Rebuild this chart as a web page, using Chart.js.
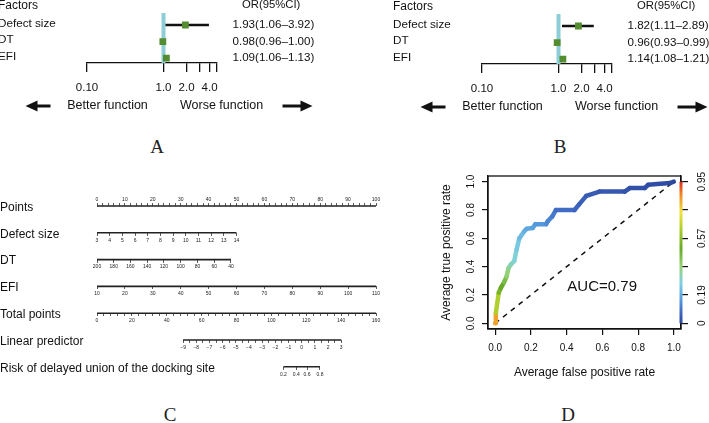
<!DOCTYPE html>
<html>
<head>
<meta charset="utf-8">
<title>Forest plots, nomogram and ROC</title>
<script src="https://cdn.jsdelivr.net/npm/chart.js"></script>
<style>
  body { margin: 0; background: #fff; }
  #page { position: relative; width: 709px; height: 423px; overflow: hidden; background: #fff; }
  canvas { position: absolute; }
  .tag { position: absolute; font: 19px "Liberation Serif", "Times New Roman", serif; color: #222; transform: translate(-50%, -50%); }
</style>
</head>
<body>
<div id="page">
  <canvas id="forestA" width="318" height="125" style="left:-2px;top:0"></canvas>
  <canvas id="forestB" width="318" height="125" style="left:393px;top:1px"></canvas>
  <canvas id="nomo" width="400" height="220" style="left:0;top:180px"></canvas>
  <canvas id="roc" width="289" height="240" style="left:420px;top:160px"></canvas>
  <div class="tag" style="left:157px;top:147px">A</div>
  <div class="tag" style="left:560px;top:147px">B</div>
  <div class="tag" style="left:170px;top:415px">C</div>
  <div class="tag" style="left:568px;top:415px">D</div>
</div>
<script>
const FONT = '"Liberation Sans", Arial, sans-serif';
Chart.defaults.font.family = FONT;
Chart.defaults.color = '#1a1a1a';
Chart.defaults.animation = false;
Chart.defaults.events = [];
Chart.defaults.plugins.legend.display = false;
Chart.defaults.plugins.tooltip.enabled = false;

// panels A and B: odds ratios
const factors = ['Defect size', 'DT', 'EFI'];
const orA = [1.93, 0.98, 1.09];
const loA = [1.06, 0.96, 1.06];
const hiA = [3.92, 1.00, 1.13];
const orB = [1.82, 0.96, 1.14];
const loB = [1.11, 0.93, 1.08];
const hiB = [2.89, 0.99, 1.21];
const orTicks = [0.1, 1, 2, 3, 4, 5];
const orTickLabels = ['0.10', '1.0', '2.0', '', '4.0', ''];

// panel C: nomogram
const nomoRows = ['Points', 'Defect size', 'DT', 'EFI', 'Total points', 'Linear predictor', 'Risk of delayed union of the docking site'];
const pointsTicks = [0, 10, 20, 30, 40, 50, 60, 70, 80, 90, 100];
const defectTicks = [3, 4, 5, 6, 7, 8, 9, 10, 11, 12, 13, 14];
const dtTicks = [200, 180, 160, 140, 120, 100, 80, 60, 40];
const efiTicks = [10, 20, 30, 40, 50, 60, 70, 80, 90, 100, 110];
const totalTicks = [0, 20, 40, 60, 80, 100, 120, 140, 160];
const lpTicks = [-9, -8, -7, -6, -5, -4, -3, -2, -1, 0, 1, 2, 3];
const riskTicks = [0.2, 0.4, 0.6, 0.8];
// points given at the far end of each predictor
const defectMaxPoints = 50;
const dtMaxPoints = 48;
const efiMaxPoints = 100;
// linear predictor at 0 total points, and per total point
const lpIntercept = -15.53;
const lpSlope = 0.1323;

// panel D: ROC
const fpr = [0, 0.004, 0.02, 0.032, 0.05, 0.064, 0.075, 0.088, 0.107, 0.12, 0.135, 0.163, 0.176, 0.21, 0.225, 0.285, 0.294, 0.32, 0.34, 0.444, 0.47, 0.51, 0.584, 0.725, 0.753, 0.837, 0.856, 0.978, 1.0];
const tpr = [0, 0.075, 0.216, 0.25, 0.29, 0.33, 0.39, 0.415, 0.44, 0.52, 0.60, 0.65, 0.667, 0.673, 0.70, 0.70, 0.72, 0.755, 0.80, 0.80, 0.84, 0.90, 0.93, 0.93, 0.955, 0.955, 0.978, 0.99, 1.0];
const cutoff = [0.95, 0.72, 0.55, 0.52, 0.48, 0.42, 0.36, 0.32, 0.30, 0.27, 0.24, 0.20, 0.19, 0.17, 0.16, 0.14, 0.13, 0.11, 0.09, 0.07, 0.06, 0.05, 0.04, 0.03, 0.025, 0.02, 0.015, 0.01, 0];
const rocTicks = [0, 0.2, 0.4, 0.6, 0.8, 1.0];
const cutoffTicks = [0, 0.19, 0.38, 0.57, 0.76, 0.95];
const cutoffTickLabels = ['0', '0.19', '', '0.57', '', '0.95'];
const aucText = 'AUC=0.79';

// colour ramp for the cutoff colouring
const rampStops = [
  [0.00, [44, 72, 158]],
  [0.07, [62, 102, 192]],
  [0.16, [88, 158, 222]],
  [0.27, [126, 208, 228]],
  [0.38, [150, 212, 120]],
  [0.50, [104, 170, 40]],
  [0.63, [172, 206, 46]],
  [0.74, [240, 226, 62]],
  [0.85, [240, 150, 40]],
  [0.95, [222, 44, 30]]
];

function ramp(v) {
  for (let i = 1; i < rampStops.length; i++) {
    const [v1, c1] = rampStops[i];
    if (v <= v1 || i === rampStops.length - 1) {
      const [v0, c0] = rampStops[i - 1];
      const t = Math.max(0, Math.min(1, (v - v0) / (v1 - v0)));
      return 'rgb(' + c0.map((c, k) => Math.round(c + (c1[k] - c) * t)).join(',') + ')';
    }
  }
}

function arrow(ctx, tail, tip, y) {
  const dir = Math.sign(tip - tail);
  ctx.lineWidth = 3;
  ctx.beginPath();
  ctx.moveTo(tail, y);
  ctx.lineTo(tip - dir * 10, y);
  ctx.stroke();
  ctx.beginPath();
  ctx.moveTo(tip, y);
  ctx.lineTo(tip - dir * 12, y - 5.5);
  ctx.lineTo(tip - dir * 12, y + 5.5);
  ctx.closePath();
  ctx.fill();
}

// texts and arrows round the forest plots
const forestText = {
  id: 'forestText',
  afterDraw(chart, args, opts) {
    const { ctx, chartArea, scales: { x, y } } = chart;
    const one = x.getPixelForValue(1);
    ctx.save();
    ctx.fillStyle = '#111';
    ctx.strokeStyle = '#111';
    ctx.textBaseline = 'middle';
    const headY = y.getPixelForValue(4.2);
    ctx.font = '12px ' + FONT;
    ctx.fillText('Factors', 0, headY);
    ctx.font = '11.3px ' + FONT;
    ctx.fillText('OR(95%CI)', 244, headY);
    factors.forEach((f, i) => {
      const py = y.getPixelForValue(factors.length - i);
      ctx.font = '11.7px ' + FONT;
      ctx.fillText(f, 0, py - 1.5);
      ctx.font = '11.6px ' + FONT;
      ctx.fillText(opts.or[i].toFixed(2) + '(' + opts.lo[i].toFixed(2) + '–' + opts.hi[i].toFixed(2) + ')', 234.5, py);
    });
    const ay = chartArea.bottom + 43;
    ctx.font = '12.5px ' + FONT;
    ctx.textAlign = 'center';
    ctx.fillText('Better function', one - 56, ay);
    ctx.fillText('Worse function', one + 58, ay);
    arrow(ctx, one - 113, one - 138, ay);
    arrow(ctx, one + 119, one + 149, ay);
    ctx.restore();
  }
};

function forest(id, or, lo, hi) {
  const rows = factors.map((f, i) => factors.length - i);
  return new Chart(document.getElementById(id), {
    type: 'scatter',
    data: {
      datasets: [
        { type: 'scatter', data: or.map((v, i) => ({ x: v, y: rows[i] })), pointStyle: 'rect', pointRadius: 4.8, backgroundColor: '#548c30', borderWidth: 0, order: 0 },
        ...rows.map((r, i) => ({ type: 'line', data: [{ x: lo[i], y: r }, { x: hi[i], y: r }], borderColor: '#111', borderWidth: 2.6, pointRadius: 0, order: 1 })),
        { type: 'line', data: [{ x: 1, y: 0.7 }, { x: 1, y: 3.72 }], borderColor: '#8ccdd7', borderWidth: 4, pointRadius: 0, order: 2 }
      ]
    },
    options: {
      responsive: false,
      devicePixelRatio: 1,
      layout: { padding: { left: 89, right: 99, top: 8.5, bottom: 22 } },
      scales: {
        x: {
          type: 'logarithmic', min: 0.1, max: 5, bounds: 'data',
          afterBuildTicks: s => { s.ticks = orTicks.map(v => ({ value: v })); },
          afterFit: s => { s.height = 40; },
          ticks: { callback: (v, i) => orTickLabels[i], autoSkip: false, maxRotation: 0, padding: 8.8, font: { size: 11.5 }, color: '#111' },
          grid: { drawOnChartArea: false, tickLength: 9, color: '#111', lineWidth: 1.3 },
          border: { color: '#111', width: 1.3 }
        },
        y: { type: 'linear', min: 0.7, max: 4, display: false }
      },
      plugins: { forestText: { or, lo, hi } }
    },
    plugins: [forestText]
  });
}

forest('forestA', orA, loA, hiA);
forest('forestB', orB, loB, hiB);

// nomogram
const logit = p => Math.log(p / (1 - p));
const lpEnd = lpIntercept + lpSlope * totalTicks[totalTicks.length - 1];

function nomoAxis(row, from, to, majors, minorStep, fmt) {
  const isMajor = v => majors.some(m => Math.abs(m - v) < 1e-6);
  return {
    type: 'linear', axis: 'x', bounds: 'data',
    min: Math.min(from, to), max: Math.max(from, to), reverse: from > to,
    position: row === 0 ? 'top' : { y: row },
    afterBuildTicks: s => {
      const vals = majors.slice();
      if (minorStep) {
        const a = Math.min(...majors), b = Math.max(...majors);
        for (let v = a; v <= b + 1e-6; v += minorStep) if (!isMajor(v)) vals.push(v);
      }
      s.ticks = vals.sort((p, q) => p - q).map(v => ({ value: v }));
    },
    afterFit: s => { if (row === 0) s.height = 14; },
    ticks: { autoSkip: false, maxRotation: 0, padding: row === 0 ? 0 : 1.5, font: { size: 5 }, color: '#222', callback: v => isMajor(v) ? fmt(v) : '' },
    grid: { drawOnChartArea: false, tickLength: 3, color: '#333', lineWidth: 0.8 },
    border: { display: false }
  };
}

const nomoScales = [
  ['xPoints', 0, 100, pointsTicks, 2, String],
  ['xDefect', defectTicks[0], defectTicks[0] + (defectTicks[defectTicks.length - 1] - defectTicks[0]) * 100 / defectMaxPoints, defectTicks, 0, String],
  ['xDT', dtTicks[0], dtTicks[0] - (dtTicks[0] - dtTicks[dtTicks.length - 1]) * 100 / dtMaxPoints, dtTicks, 0, String],
  ['xEFI', efiTicks[0], efiTicks[0] + (efiTicks[efiTicks.length - 1] - efiTicks[0]) * 100 / efiMaxPoints, efiTicks, 0, String],
  ['xTotal', 0, totalTicks[totalTicks.length - 1], totalTicks, 4, String],
  ['xLP', lpIntercept, lpEnd, lpTicks, 0.5, v => String(v).replace('-', '−')],
  ['xRisk', lpIntercept, lpEnd, riskTicks.map(logit), 0, v => (1 / (1 + Math.exp(-v))).toFixed(1)]
];

const nomoOpts = { y: { type: 'linear', min: 0, max: 6.4, reverse: true, display: false } };
nomoScales.forEach(([id, from, to, majors, minor, fmt], row) => {
  nomoOpts[id] = nomoAxis(row, from, to, majors, minor, fmt);
});

const nomoLabels = {
  id: 'nomoLabels',
  afterDraw(chart) {
    const { ctx, scales: { y } } = chart;
    ctx.save();
    ctx.font = '12px ' + FONT;
    ctx.fillStyle = '#111';
    ctx.textBaseline = 'middle';
    nomoRows.forEach((r, i) => ctx.fillText(r, 0, y.getPixelForValue(i) + 1.5));
    ctx.restore();
  }
};

new Chart(document.getElementById('nomo'), {
  type: 'line',
  data: {
    datasets: nomoScales.map(([id, from, to, majors], row) => ({
      xAxisID: id, yAxisID: 'y',
      data: [{ x: majors[0], y: row }, { x: majors[majors.length - 1], y: row }],
      borderColor: '#222', borderWidth: 1.6, pointRadius: 0, clip: false
    }))
  },
  options: {
    responsive: false,
    devicePixelRatio: 1,
    layout: { padding: { left: 97, right: 24, top: 12, bottom: 22.5 } },
    scales: nomoOpts
  },
  plugins: [nomoLabels]
});

// ROC
const rocExtras = {
  id: 'rocExtras',
  afterDraw(chart) {
    const { ctx, chartArea: a, scales: { x, y, y2 } } = chart;
    ctx.save();
    ctx.strokeStyle = '#111';
    ctx.lineWidth = 1.3;
    ctx.strokeRect(a.left, a.top, a.right - a.left, a.bottom - a.top);
    const top = y2.getPixelForValue(cutoffTicks[cutoffTicks.length - 1]);
    const bot = y2.getPixelForValue(cutoffTicks[0]);
    const g = ctx.createLinearGradient(0, bot, 0, top);
    rampStops.forEach(([v, c]) => g.addColorStop(v / 0.95, 'rgb(' + c.join(',') + ')'));
    ctx.fillStyle = g;
    ctx.fillRect(a.right - 1.5, top, 3, bot - top);
    ctx.fillStyle = '#111';
    ctx.font = '15px ' + FONT;
    ctx.textBaseline = 'middle';
    ctx.fillText(aucText, x.getPixelForValue(0.404), y.getPixelForValue(0.26));
    ctx.restore();
  }
};

new Chart(document.getElementById('roc'), {
  type: 'line',
  data: {
    datasets: [
      {
        data: fpr.map((v, i) => ({ x: v, y: tpr[i] })),
        borderWidth: 4.5, borderCapStyle: 'round', borderJoinStyle: 'round', pointRadius: 0, clip: false, order: 0,
        borderColor: ramp(0),
        segment: { borderColor: c => ramp((cutoff[c.p0DataIndex] + cutoff[c.p1DataIndex]) / 2) }
      },
      { data: [{ x: 0, y: 0 }, { x: 1, y: 1 }], borderColor: '#111', borderWidth: 1.5, borderDash: [5, 5], pointRadius: 0, order: 1 }
    ]
  },
  options: {
    responsive: false,
    devicePixelRatio: 1,
    layout: { padding: { left: 18, right: 4, top: 16, bottom: 20 } },
    scales: {
      x: {
        type: 'linear', min: -0.04, max: 1.04, bounds: 'data',
        afterBuildTicks: s => { s.ticks = rocTicks.map(v => ({ value: v })); },
        afterFit: s => { s.height = 51; },
        ticks: { callback: v => v.toFixed(1), autoSkip: false, maxRotation: 0, padding: 7.4, font: { size: 10 }, color: '#111' },
        grid: { drawOnChartArea: false, tickLength: 6, color: '#111', lineWidth: 1.2 },
        border: { color: '#111', width: 1.3 },
        title: { display: true, text: 'Average false positive rate', font: { size: 12 }, color: '#111', padding: { top: 0, bottom: 0 } }
      },
      y: {
        type: 'linear', position: 'left', min: -0.04, max: 1.04, bounds: 'data',
        afterBuildTicks: s => { s.ticks = rocTicks.map(v => ({ value: v })); },
        afterFit: s => { s.width = 50; },
        ticks: { callback: v => v.toFixed(1), autoSkip: false, minRotation: 90, maxRotation: 90, crossAlign: 'center', padding: 4, font: { size: 10 }, color: '#111' },
        grid: { drawOnChartArea: false, tickLength: 6, color: '#111', lineWidth: 1.2 },
        border: { color: '#111', width: 1.3 },
        title: { display: true, text: 'Average true positive rate', font: { size: 12 }, color: '#111', padding: { top: 1.8, bottom: 0 } }
      },
      y2: {
        type: 'linear', position: 'right', min: -0.04 * 0.95, max: 1.04 * 0.95, bounds: 'data',
        afterBuildTicks: s => { s.ticks = cutoffTicks.map(v => ({ value: v })); },
        afterFit: s => { s.width = 24; },
        ticks: { callback: (v, i) => cutoffTickLabels[i], autoSkip: false, minRotation: 90, maxRotation: 90, crossAlign: 'center', padding: 5, font: { size: 10 }, color: '#111' },
        grid: { drawOnChartArea: false, tickLength: 7, color: '#111', lineWidth: 1.2 },
        border: { color: '#111', width: 1.3 }
      }
    }
  },
  plugins: [rocExtras]
});
</script>
</body>
</html>
